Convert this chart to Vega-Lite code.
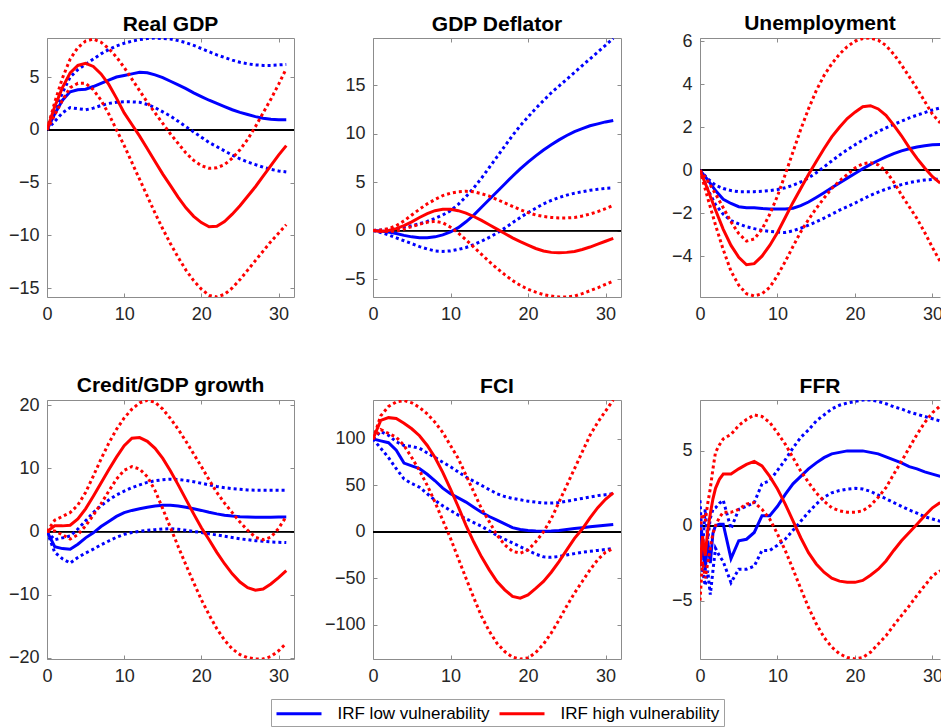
{
"$schema": "https://vega.github.io/schema/vega-lite/v6.json",
"background": "white",
"padding": {"left": 8, "top": 13, "right": 0, "bottom": 0},
"datasets": {"d": [
{"p":"g","t":0,"lm":0,"ll":0,"lh":0,"hm":0,"hl":0,"hh":0},
{"p":"g","t":1,"lm":1.5,"ll":0.8,"lh":1.8,"hm":2.2,"hl":1.4,"hh":2.6},
{"p":"g","t":2,"lm":2.8,"ll":1.6,"lh":3.5,"hm":4.0,"hl":2.8,"hh":4.9},
{"p":"g","t":3,"lm":3.6,"ll":2.1,"lh":5.0,"hm":5.4,"hl":4.0,"hh":6.7},
{"p":"g","t":4,"lm":3.8,"ll":2.0,"lh":5.7,"hm":6.1,"hl":4.4,"hh":7.8},
{"p":"g","t":5,"lm":3.85,"ll":1.9,"lh":6.2,"hm":6.3,"hl":4.4,"hh":8.4},
{"p":"g","t":6,"lm":4.1,"ll":2.05,"lh":6.7,"hm":6.0,"hl":3.8,"hh":8.6},
{"p":"g","t":7,"lm":4.4,"ll":2.3,"lh":7.2,"hm":5.3,"hl":2.8,"hh":8.3},
{"p":"g","t":8,"lm":4.7,"ll":2.5,"lh":7.6,"hm":4.3,"hl":1.5,"hh":7.7},
{"p":"g","t":9,"lm":5.0,"ll":2.6,"lh":7.95,"hm":3.0,"hl":0.0,"hh":6.9},
{"p":"g","t":10,"lm":5.15,"ll":2.65,"lh":8.2,"hm":1.6,"hl":-1.5,"hh":5.9},
{"p":"g","t":11,"lm":5.3,"ll":2.65,"lh":8.4,"hm":0.5,"hl":-3.1,"hh":4.8},
{"p":"g","t":12,"lm":5.45,"ll":2.6,"lh":8.55,"hm":-0.6,"hl":-4.7,"hh":3.7},
{"p":"g","t":13,"lm":5.4,"ll":2.4,"lh":8.65,"hm":-1.8,"hl":-6.3,"hh":2.6},
{"p":"g","t":14,"lm":5.2,"ll":2.1,"lh":8.7,"hm":-3.0,"hl":-7.9,"hh":1.6},
{"p":"g","t":15,"lm":4.95,"ll":1.7,"lh":8.65,"hm":-4.2,"hl":-9.4,"hh":0.6},
{"p":"g","t":16,"lm":4.6,"ll":1.3,"lh":8.6,"hm":-5.3,"hl":-10.8,"hh":-0.4},
{"p":"g","t":17,"lm":4.25,"ll":0.8,"lh":8.45,"hm":-6.4,"hl":-12.1,"hh":-1.3},
{"p":"g","t":18,"lm":3.9,"ll":0.3,"lh":8.25,"hm":-7.4,"hl":-13.3,"hh":-2.2},
{"p":"g","t":19,"lm":3.5,"ll":-0.2,"lh":8.0,"hm":-8.2,"hl":-14.3,"hh":-2.9},
{"p":"g","t":20,"lm":3.15,"ll":-0.7,"lh":7.7,"hm":-8.8,"hl":-15.1,"hh":-3.4},
{"p":"g","t":21,"lm":2.8,"ll":-1.2,"lh":7.4,"hm":-9.2,"hl":-15.7,"hh":-3.65},
{"p":"g","t":22,"lm":2.5,"ll":-1.6,"lh":7.1,"hm":-9.15,"hl":-15.85,"hh":-3.6},
{"p":"g","t":23,"lm":2.2,"ll":-2.0,"lh":6.85,"hm":-8.7,"hl":-15.6,"hh":-3.3},
{"p":"g","t":24,"lm":1.9,"ll":-2.4,"lh":6.6,"hm":-8.0,"hl":-15.0,"hh":-2.7},
{"p":"g","t":25,"lm":1.65,"ll":-2.75,"lh":6.4,"hm":-7.2,"hl":-14.2,"hh":-1.9},
{"p":"g","t":26,"lm":1.45,"ll":-3.05,"lh":6.25,"hm":-6.3,"hl":-13.3,"hh":-0.9},
{"p":"g","t":27,"lm":1.25,"ll":-3.3,"lh":6.15,"hm":-5.4,"hl":-12.4,"hh":0.3},
{"p":"g","t":28,"lm":1.1,"ll":-3.55,"lh":6.1,"hm":-4.4,"hl":-11.5,"hh":1.6},
{"p":"g","t":29,"lm":1.0,"ll":-3.75,"lh":6.1,"hm":-3.4,"hl":-10.6,"hh":2.9},
{"p":"g","t":30,"lm":0.95,"ll":-3.9,"lh":6.15,"hm":-2.4,"hl":-9.8,"hh":4.3},
{"p":"g","t":31,"lm":0.95,"ll":-4.0,"lh":6.2,"hm":-1.5,"hl":-9.0,"hh":5.8},
{"p":"d","t":0,"lm":0,"ll":0,"lh":0,"hm":0,"hl":0,"hh":0},
{"p":"d","t":1,"lm":-0.05,"ll":-0.2,"lh":0.05,"hm":-0.1,"hl":-0.05,"hh":0.05},
{"p":"d","t":2,"lm":-0.15,"ll":-0.45,"lh":0.1,"hm":0.0,"hl":-0.1,"hh":0.2},
{"p":"d","t":3,"lm":-0.3,"ll":-0.75,"lh":0.2,"hm":0.2,"hl":-0.05,"hh":0.5},
{"p":"d","t":4,"lm":-0.5,"ll":-1.05,"lh":0.35,"hm":0.5,"hl":0.15,"hh":1.0},
{"p":"d","t":5,"lm":-0.65,"ll":-1.35,"lh":0.5,"hm":0.9,"hl":0.4,"hh":1.6},
{"p":"d","t":6,"lm":-0.75,"ll":-1.65,"lh":0.7,"hm":1.35,"hl":0.65,"hh":2.2},
{"p":"d","t":7,"lm":-0.75,"ll":-1.9,"lh":0.95,"hm":1.75,"hl":0.85,"hh":2.75},
{"p":"d","t":8,"lm":-0.65,"ll":-2.1,"lh":1.25,"hm":2.05,"hl":0.95,"hh":3.2},
{"p":"d","t":9,"lm":-0.45,"ll":-2.15,"lh":1.6,"hm":2.2,"hl":0.8,"hh":3.6},
{"p":"d","t":10,"lm":-0.15,"ll":-2.1,"lh":2.05,"hm":2.2,"hl":0.35,"hh":3.85},
{"p":"d","t":11,"lm":0.3,"ll":-1.95,"lh":2.7,"hm":2.05,"hl":-0.25,"hh":4.0},
{"p":"d","t":12,"lm":0.9,"ll":-1.75,"lh":3.5,"hm":1.8,"hl":-0.95,"hh":4.05},
{"p":"d","t":13,"lm":1.6,"ll":-1.45,"lh":4.4,"hm":1.45,"hl":-1.7,"hh":4.0},
{"p":"d","t":14,"lm":2.4,"ll":-1.1,"lh":5.4,"hm":1.05,"hl":-2.45,"hh":3.8},
{"p":"d","t":15,"lm":3.2,"ll":-0.7,"lh":6.5,"hm":0.6,"hl":-3.2,"hh":3.55},
{"p":"d","t":16,"lm":4.0,"ll":-0.25,"lh":7.6,"hm":0.15,"hl":-3.9,"hh":3.2},
{"p":"d","t":17,"lm":4.8,"ll":0.25,"lh":8.7,"hm":-0.3,"hl":-4.55,"hh":2.85},
{"p":"d","t":18,"lm":5.6,"ll":0.8,"lh":9.8,"hm":-0.75,"hl":-5.15,"hh":2.5},
{"p":"d","t":19,"lm":6.35,"ll":1.35,"lh":10.8,"hm":-1.15,"hl":-5.65,"hh":2.15},
{"p":"d","t":20,"lm":7.05,"ll":1.85,"lh":11.7,"hm":-1.5,"hl":-6.05,"hh":1.85},
{"p":"d","t":21,"lm":7.7,"ll":2.3,"lh":12.6,"hm":-1.85,"hl":-6.35,"hh":1.6},
{"p":"d","t":22,"lm":8.3,"ll":2.75,"lh":13.4,"hm":-2.1,"hl":-6.6,"hh":1.45},
{"p":"d","t":23,"lm":8.85,"ll":3.1,"lh":14.2,"hm":-2.25,"hl":-6.75,"hh":1.35},
{"p":"d","t":24,"lm":9.35,"ll":3.4,"lh":14.9,"hm":-2.3,"hl":-6.85,"hh":1.3},
{"p":"d","t":25,"lm":9.8,"ll":3.65,"lh":15.6,"hm":-2.25,"hl":-6.85,"hh":1.3},
{"p":"d","t":26,"lm":10.2,"ll":3.85,"lh":16.3,"hm":-2.15,"hl":-6.75,"hh":1.35},
{"p":"d","t":27,"lm":10.5,"ll":4.0,"lh":17.0,"hm":-1.95,"hl":-6.5,"hh":1.5},
{"p":"d","t":28,"lm":10.8,"ll":4.15,"lh":17.7,"hm":-1.7,"hl":-6.2,"hh":1.7},
{"p":"d","t":29,"lm":11.0,"ll":4.25,"lh":18.4,"hm":-1.4,"hl":-5.9,"hh":1.95},
{"p":"d","t":30,"lm":11.2,"ll":4.35,"lh":19.1,"hm":-1.1,"hl":-5.55,"hh":2.25},
{"p":"d","t":31,"lm":11.35,"ll":4.4,"lh":19.8,"hm":-0.8,"hl":-5.2,"hh":2.6},
{"p":"u","t":0,"lm":0,"ll":0,"lh":0,"hm":0,"hl":0,"hh":0},
{"p":"u","t":1,"lm":-0.45,"ll":-0.9,"lh":-0.4,"hm":-0.9,"hl":-1.3,"hh":-0.5},
{"p":"u","t":2,"lm":-0.95,"ll":-1.6,"lh":-0.7,"hm":-1.85,"hl":-2.55,"hh":-1.1},
{"p":"u","t":3,"lm":-1.35,"ll":-2.05,"lh":-0.85,"hm":-2.75,"hl":-3.7,"hh":-1.75},
{"p":"u","t":4,"lm":-1.55,"ll":-2.35,"lh":-0.95,"hm":-3.5,"hl":-4.7,"hh":-2.4},
{"p":"u","t":5,"lm":-1.7,"ll":-2.5,"lh":-1.0,"hm":-4.05,"hl":-5.35,"hh":-2.95},
{"p":"u","t":6,"lm":-1.75,"ll":-2.63,"lh":-1.0,"hm":-4.4,"hl":-5.75,"hh":-3.3},
{"p":"u","t":7,"lm":-1.75,"ll":-2.72,"lh":-1.0,"hm":-4.35,"hl":-5.85,"hh":-3.2},
{"p":"u","t":8,"lm":-1.78,"ll":-2.8,"lh":-0.98,"hm":-4.0,"hl":-5.75,"hh":-2.75},
{"p":"u","t":9,"lm":-1.8,"ll":-2.85,"lh":-0.95,"hm":-3.5,"hl":-5.45,"hh":-2.05},
{"p":"u","t":10,"lm":-1.8,"ll":-2.88,"lh":-0.9,"hm":-2.9,"hl":-4.9,"hh":-1.2},
{"p":"u","t":11,"lm":-1.8,"ll":-2.9,"lh":-0.82,"hm":-2.2,"hl":-4.25,"hh":-0.2},
{"p":"u","t":12,"lm":-1.77,"ll":-2.82,"lh":-0.7,"hm":-1.5,"hl":-3.55,"hh":0.85},
{"p":"u","t":13,"lm":-1.65,"ll":-2.7,"lh":-0.55,"hm":-0.85,"hl":-2.87,"hh":1.9},
{"p":"u","t":14,"lm":-1.48,"ll":-2.56,"lh":-0.36,"hm":-0.2,"hl":-2.3,"hh":2.85},
{"p":"u","t":15,"lm":-1.27,"ll":-2.4,"lh":-0.12,"hm":0.4,"hl":-1.78,"hh":3.7},
{"p":"u","t":16,"lm":-1.05,"ll":-2.23,"lh":0.15,"hm":1.0,"hl":-1.3,"hh":4.4},
{"p":"u","t":17,"lm":-0.82,"ll":-2.05,"lh":0.43,"hm":1.55,"hl":-0.85,"hh":4.95},
{"p":"u","t":18,"lm":-0.6,"ll":-1.86,"lh":0.7,"hm":2.0,"hl":-0.5,"hh":5.4},
{"p":"u","t":19,"lm":-0.37,"ll":-1.7,"lh":0.95,"hm":2.4,"hl":-0.2,"hh":5.75},
{"p":"u","t":20,"lm":-0.15,"ll":-1.53,"lh":1.18,"hm":2.7,"hl":0.1,"hh":6.0},
{"p":"u","t":21,"lm":0.07,"ll":-1.35,"lh":1.4,"hm":2.95,"hl":0.3,"hh":6.12},
{"p":"u","t":22,"lm":0.27,"ll":-1.17,"lh":1.6,"hm":3.0,"hl":0.35,"hh":6.15},
{"p":"u","t":23,"lm":0.45,"ll":-1.02,"lh":1.8,"hm":2.85,"hl":0.25,"hh":6.05},
{"p":"u","t":24,"lm":0.62,"ll":-0.88,"lh":1.97,"hm":2.55,"hl":-0.05,"hh":5.8},
{"p":"u","t":25,"lm":0.77,"ll":-0.77,"lh":2.13,"hm":2.1,"hl":-0.55,"hh":5.4},
{"p":"u","t":26,"lm":0.9,"ll":-0.67,"lh":2.28,"hm":1.6,"hl":-1.15,"hh":4.9},
{"p":"u","t":27,"lm":1.0,"ll":-0.58,"lh":2.43,"hm":1.05,"hl":-1.7,"hh":4.35},
{"p":"u","t":28,"lm":1.08,"ll":-0.51,"lh":2.56,"hm":0.55,"hl":-2.25,"hh":3.8},
{"p":"u","t":29,"lm":1.14,"ll":-0.46,"lh":2.68,"hm":0.1,"hl":-2.9,"hh":3.2},
{"p":"u","t":30,"lm":1.18,"ll":-0.43,"lh":2.8,"hm":-0.3,"hl":-3.6,"hh":2.6},
{"p":"u","t":31,"lm":1.2,"ll":-0.42,"lh":2.9,"hm":-0.6,"hl":-4.25,"hh":2.2},
{"p":"c","t":0,"lm":0,"ll":0,"lh":0,"hm":0,"hl":0,"hh":0},
{"p":"c","t":1,"lm":-2.4,"ll":-3.3,"lh":-1.3,"hm":0.9,"hl":0.1,"hh":1.8},
{"p":"c","t":2,"lm":-2.7,"ll":-4.3,"lh":-1.0,"hm":0.9,"hl":-0.5,"hh":2.4},
{"p":"c","t":3,"lm":-2.8,"ll":-5.0,"lh":-0.7,"hm":1.0,"hl":-1.2,"hh":3.0},
{"p":"c","t":4,"lm":-2.0,"ll":-4.1,"lh":0.4,"hm":2.0,"hl":-0.5,"hh":4.2},
{"p":"c","t":5,"lm":-1.0,"ll":-3.4,"lh":1.7,"hm":3.6,"hl":0.9,"hh":6.2},
{"p":"c","t":6,"lm":-0.2,"ll":-2.8,"lh":3.0,"hm":5.6,"hl":2.6,"hh":8.8},
{"p":"c","t":7,"lm":0.8,"ll":-2.1,"lh":4.1,"hm":7.7,"hl":4.4,"hh":11.5},
{"p":"c","t":8,"lm":1.6,"ll":-1.5,"lh":5.0,"hm":9.8,"hl":6.4,"hh":14.0},
{"p":"c","t":9,"lm":2.4,"ll":-0.9,"lh":5.8,"hm":11.8,"hl":8.3,"hh":16.2},
{"p":"c","t":10,"lm":3.0,"ll":-0.45,"lh":6.4,"hm":13.6,"hl":9.7,"hh":18.0},
{"p":"c","t":11,"lm":3.35,"ll":-0.15,"lh":6.95,"hm":14.8,"hl":10.3,"hh":19.4},
{"p":"c","t":12,"lm":3.6,"ll":0.05,"lh":7.4,"hm":14.9,"hl":9.9,"hh":20.4},
{"p":"c","t":13,"lm":3.85,"ll":0.2,"lh":7.8,"hm":14.3,"hl":8.7,"hh":20.8},
{"p":"c","t":14,"lm":4.05,"ll":0.3,"lh":8.05,"hm":13.2,"hl":6.5,"hh":20.5},
{"p":"c","t":15,"lm":4.15,"ll":0.4,"lh":8.2,"hm":11.6,"hl":3.6,"hh":19.4},
{"p":"c","t":16,"lm":4.15,"ll":0.45,"lh":8.3,"hm":9.6,"hl":0.6,"hh":17.9},
{"p":"c","t":17,"lm":4.05,"ll":0.35,"lh":8.25,"hm":7.4,"hl":-2.4,"hh":16.2},
{"p":"c","t":18,"lm":3.85,"ll":0.2,"lh":8.1,"hm":5.1,"hl":-5.3,"hh":14.3},
{"p":"c","t":19,"lm":3.6,"ll":0.0,"lh":7.9,"hm":2.8,"hl":-8.1,"hh":12.3},
{"p":"c","t":20,"lm":3.35,"ll":-0.15,"lh":7.65,"hm":0.6,"hl":-10.8,"hh":10.3},
{"p":"c","t":21,"lm":3.05,"ll":-0.35,"lh":7.4,"hm":-1.3,"hl":-13.2,"hh":8.2},
{"p":"c","t":22,"lm":2.8,"ll":-0.55,"lh":7.15,"hm":-3.3,"hl":-15.4,"hh":6.2},
{"p":"c","t":23,"lm":2.6,"ll":-0.75,"lh":6.95,"hm":-5.1,"hl":-17.2,"hh":4.5},
{"p":"c","t":24,"lm":2.45,"ll":-0.95,"lh":6.8,"hm":-6.7,"hl":-18.6,"hh":3.0},
{"p":"c","t":25,"lm":2.35,"ll":-1.15,"lh":6.7,"hm":-8.0,"hl":-19.5,"hh":1.5},
{"p":"c","t":26,"lm":2.3,"ll":-1.3,"lh":6.6,"hm":-8.9,"hl":-20.0,"hh":0.2},
{"p":"c","t":27,"lm":2.25,"ll":-1.45,"lh":6.55,"hm":-9.3,"hl":-20.2,"hh":-0.9},
{"p":"c","t":28,"lm":2.25,"ll":-1.55,"lh":6.55,"hm":-9.1,"hl":-20.2,"hh":-1.3},
{"p":"c","t":29,"lm":2.25,"ll":-1.65,"lh":6.55,"hm":-8.3,"hl":-19.8,"hh":-0.9},
{"p":"c","t":30,"lm":2.3,"ll":-1.7,"lh":6.55,"hm":-7.3,"hl":-18.9,"hh":0.5},
{"p":"c","t":31,"lm":2.3,"ll":-1.75,"lh":6.55,"hm":-6.2,"hl":-17.7,"hh":2.4},
{"p":"f","t":0,"lm":100,"ll":100,"lh":100,"hm":100,"hl":100,"hh":100},
{"p":"f","t":1,"lm":98,"ll":90,"lh":108,"hm":120,"hl":110,"hh":125},
{"p":"f","t":2,"lm":96,"ll":80,"lh":104,"hm":123,"hl":106,"hh":135},
{"p":"f","t":3,"lm":88,"ll":68,"lh":97,"hm":122,"hl":102,"hh":140},
{"p":"f","t":4,"lm":74,"ll":57,"lh":93,"hm":117,"hl":93,"hh":141.5},
{"p":"f","t":5,"lm":71,"ll":52,"lh":92,"hm":111,"hl":80,"hh":139},
{"p":"f","t":6,"lm":68,"ll":48,"lh":90,"hm":103.5,"hl":66,"hh":134},
{"p":"f","t":7,"lm":62,"ll":41,"lh":85,"hm":93,"hl":50,"hh":127},
{"p":"f","t":8,"lm":55,"ll":34,"lh":80,"hm":80,"hl":32,"hh":118},
{"p":"f","t":9,"lm":47,"ll":28,"lh":75,"hm":64,"hl":12.5,"hh":107},
{"p":"f","t":10,"lm":41,"ll":23,"lh":70,"hm":46,"hl":-7,"hh":93},
{"p":"f","t":11,"lm":36.5,"ll":18,"lh":64.5,"hm":27,"hl":-28.6,"hh":79},
{"p":"f","t":12,"lm":32,"ll":14,"lh":59,"hm":7,"hl":-50,"hh":61},
{"p":"f","t":13,"lm":26.5,"ll":10,"lh":54.5,"hm":-11,"hl":-71,"hh":43},
{"p":"f","t":14,"lm":21,"ll":6,"lh":50,"hm":-27,"hl":-91,"hh":25},
{"p":"f","t":15,"lm":16.5,"ll":1,"lh":45.5,"hm":-41,"hl":-107,"hh":11},
{"p":"f","t":16,"lm":12.5,"ll":-4,"lh":41,"hm":-53.5,"hl":-120,"hh":-3.6},
{"p":"f","t":17,"lm":8.5,"ll":-8,"lh":38,"hm":-62.5,"hl":-129,"hh":-14},
{"p":"f","t":18,"lm":4.5,"ll":-12,"lh":36,"hm":-69.5,"hl":-135,"hh":-21},
{"p":"f","t":19,"lm":2.5,"ll":-16,"lh":34.5,"hm":-71.5,"hl":-137,"hh":-23},
{"p":"f","t":20,"lm":1.5,"ll":-20,"lh":33,"hm":-68,"hl":-136,"hh":-19.6},
{"p":"f","t":21,"lm":0.8,"ll":-24,"lh":32,"hm":-61,"hl":-130,"hh":-10.7},
{"p":"f","t":22,"lm":0.5,"ll":-27,"lh":31,"hm":-53.5,"hl":-121,"hh":0},
{"p":"f","t":23,"lm":0.8,"ll":-27.5,"lh":31,"hm":-43.5,"hl":-109,"hh":14},
{"p":"f","t":24,"lm":1.5,"ll":-26.5,"lh":31.5,"hm":-32,"hl":-95,"hh":32},
{"p":"f","t":25,"lm":2.5,"ll":-25,"lh":33,"hm":-19.5,"hl":-80,"hh":50},
{"p":"f","t":26,"lm":3.5,"ll":-23.5,"lh":34.5,"hm":-7,"hl":-66,"hh":68},
{"p":"f","t":27,"lm":4.5,"ll":-22,"lh":36,"hm":3,"hl":-53.5,"hh":86},
{"p":"f","t":28,"lm":5.5,"ll":-21,"lh":37.5,"hm":15,"hl":-41,"hh":104},
{"p":"f","t":29,"lm":6.3,"ll":-20,"lh":39,"hm":26,"hl":-30,"hh":118},
{"p":"f","t":30,"lm":7.2,"ll":-19,"lh":40,"hm":35,"hl":-22,"hh":130},
{"p":"f","t":31,"lm":8.0,"ll":-18,"lh":41,"hm":42,"hl":-18,"hh":142},
{"p":"r","t":0,"lm":0.0,"ll":-1.7,"lh":1.7,"hm":-2.7,"hl":-5.0,"hh":-0.3},
{"p":"r","t":0.33,"lm":-1.5,"ll":-3.0,"lh":-1.5,"hm":-0.7,"hl":-2.4,"hh":0.8},
{"p":"r","t":0.67,"lm":-3.0,"ll":-4.0,"lh":1.1,"hm":-2.0,"hl":-3.5,"hh":0.3},
{"p":"r","t":1,"lm":-1.0,"ll":-3.0,"lh":-0.9,"hm":-0.3,"hl":-2.5,"hh":1.5},
{"p":"r","t":1.33,"lm":-2.5,"ll":-4.6,"lh":0.5,"hm":0.8,"hl":-1.5,"hh":2.5},
{"p":"r","t":1.67,"lm":-0.5,"ll":-3.0,"lh":1.1,"hm":1.8,"hl":-0.5,"hh":3.8},
{"p":"r","t":2,"lm":0.0,"ll":-1.5,"lh":1.2,"hm":2.5,"hl":0.0,"hh":4.9},
{"p":"r","t":2.5,"lm":0.1,"ll":-2.0,"lh":1.5,"hm":3.1,"hl":0.55,"hh":5.4},
{"p":"r","t":3,"lm":0.1,"ll":-2.4,"lh":1.7,"hm":3.45,"hl":0.9,"hh":5.8},
{"p":"r","t":4,"lm":-2.2,"ll":-3.8,"lh":-0.2,"hm":3.45,"hl":0.9,"hh":6.1},
{"p":"r","t":5,"lm":-1.0,"ll":-2.9,"lh":1.1,"hm":3.8,"hl":1.1,"hh":6.7},
{"p":"r","t":6,"lm":-0.9,"ll":-2.9,"lh":1.3,"hm":4.1,"hl":1.45,"hh":7.1},
{"p":"r","t":7,"lm":-0.45,"ll":-2.7,"lh":1.55,"hm":4.3,"hl":1.55,"hh":7.4},
{"p":"r","t":8,"lm":0.67,"ll":-1.65,"lh":2.8,"hm":4.0,"hl":1.1,"hh":7.3},
{"p":"r","t":9,"lm":0.67,"ll":-1.65,"lh":3.0,"hm":3.3,"hl":0.45,"hh":6.9},
{"p":"r","t":10,"lm":1.3,"ll":-1.3,"lh":3.7,"hm":2.45,"hl":-0.55,"hh":6.2},
{"p":"r","t":11,"lm":2.1,"ll":-0.9,"lh":4.4,"hm":1.45,"hl":-1.65,"hh":5.45},
{"p":"r","t":12,"lm":2.8,"ll":-0.3,"lh":5.2,"hm":0.33,"hl":-2.9,"hh":4.55},
{"p":"r","t":13,"lm":3.3,"ll":0.3,"lh":5.9,"hm":-0.8,"hl":-4.2,"hh":3.65},
{"p":"r","t":14,"lm":3.8,"ll":0.9,"lh":6.4,"hm":-1.8,"hl":-5.45,"hh":2.9},
{"p":"r","t":15,"lm":4.2,"ll":1.45,"lh":7.0,"hm":-2.55,"hl":-6.55,"hh":2.2},
{"p":"r","t":16,"lm":4.55,"ll":1.9,"lh":7.4,"hm":-3.1,"hl":-7.45,"hh":1.65},
{"p":"r","t":17,"lm":4.8,"ll":2.2,"lh":7.8,"hm":-3.5,"hl":-8.1,"hh":1.2},
{"p":"r","t":18,"lm":4.9,"ll":2.35,"lh":8.05,"hm":-3.7,"hl":-8.55,"hh":1.0},
{"p":"r","t":19,"lm":5.0,"ll":2.45,"lh":8.2,"hm":-3.78,"hl":-8.8,"hh":0.9},
{"p":"r","t":20,"lm":5.0,"ll":2.5,"lh":8.3,"hm":-3.78,"hl":-8.9,"hh":0.9},
{"p":"r","t":21,"lm":5.0,"ll":2.45,"lh":8.4,"hm":-3.65,"hl":-8.8,"hh":1.0},
{"p":"r","t":22,"lm":4.9,"ll":2.3,"lh":8.4,"hm":-3.3,"hl":-8.45,"hh":1.35},
{"p":"r","t":23,"lm":4.8,"ll":2.05,"lh":8.3,"hm":-2.9,"hl":-7.9,"hh":1.9},
{"p":"r","t":24,"lm":4.6,"ll":1.8,"lh":8.15,"hm":-2.35,"hl":-7.35,"hh":2.55},
{"p":"r","t":25,"lm":4.4,"ll":1.55,"lh":7.95,"hm":-1.65,"hl":-6.65,"hh":3.45},
{"p":"r","t":26,"lm":4.2,"ll":1.3,"lh":7.8,"hm":-1.0,"hl":-6.0,"hh":4.3},
{"p":"r","t":27,"lm":3.95,"ll":1.05,"lh":7.6,"hm":-0.45,"hl":-5.35,"hh":5.2},
{"p":"r","t":28,"lm":3.8,"ll":0.85,"lh":7.45,"hm":0.1,"hl":-4.65,"hh":6.1},
{"p":"r","t":29,"lm":3.6,"ll":0.6,"lh":7.3,"hm":0.67,"hl":-4.0,"hh":6.9},
{"p":"r","t":30,"lm":3.45,"ll":0.45,"lh":7.15,"hm":1.2,"hl":-3.35,"hh":7.55},
{"p":"r","t":31,"lm":3.3,"ll":0.3,"lh":7.0,"hm":1.55,"hl":-3.0,"hh":8.0}
]},
"data": {"name": "d"},
"columns": 3,
"spacing": {"row": 103, "column": 79},
"bounds": "flush",
"concat": [
{"title": {"text": "Real GDP", "offset": 3}, "width": 247, "height": 259,
 "transform": [{"filter": "datum.p == 'g'"}],
 "resolve": {"axis": {"x": "independent", "y": "independent"}},
 "layer": [
  {"mark": {"type": "rule", "color": "#000000", "strokeWidth": 1}, "encoding": {"y": {"datum": 0, "type": "quantitative", "scale": {"domain": [-15.85, 8.7], "nice": false, "zero": false}, "axis": null}}},
  {"mark": {"type": "line", "strokeWidth": 3, "clip": true}, "encoding": {"x": {"field": "t", "type": "quantitative", "scale": {"domain": [0, 32], "nice": false, "zero": false}, "axis": {"orient": "bottom", "values": [0, 10, 20, 30], "title": null}}, "y": {"field": "lm", "type": "quantitative", "scale": {"domain": [-15.85, 8.7], "nice": false, "zero": false}, "axis": {"orient": "left", "values": [-15, -10, -5, 0, 5], "title": null}}, "color": {"datum": "IRF low vulnerability", "type": "nominal", "scale": {"domain": ["IRF low vulnerability", "IRF high vulnerability"], "range": ["#0000ff", "#ff0000"]}, "legend": {"orient": "none", "legendX": 224, "legendY": 661, "direction": "horizontal", "title": null, "symbolType": "M-2.5,0L2.5,0", "symbolSize": 324, "symbolStrokeWidth": 3, "symbolOffset": 13.5, "labelFont": "Liberation Sans", "labelFontSize": 17, "labelColor": "#000000", "labelLimit": 400, "strokeColor": "#a0a0a0", "fillColor": "#ffffff", "padding": 4, "columnPadding": 3, "labelOffset": 28}}}},
  {"mark": {"type": "line", "strokeWidth": 3, "strokeDash": [3, 3], "clip": true}, "encoding": {"x": {"field": "t", "type": "quantitative", "scale": {"domain": [0, 32], "nice": false, "zero": false}, "axis": null}, "y": {"field": "ll", "type": "quantitative", "scale": {"domain": [-15.85, 8.7], "nice": false, "zero": false}, "axis": null}, "color": {"value": "#0000ff"}}},
  {"mark": {"type": "line", "strokeWidth": 3, "strokeDash": [3, 3], "clip": true}, "encoding": {"x": {"field": "t", "type": "quantitative", "scale": {"domain": [0, 32], "nice": false, "zero": false}, "axis": null}, "y": {"field": "lh", "type": "quantitative", "scale": {"domain": [-15.85, 8.7], "nice": false, "zero": false}, "axis": null}, "color": {"value": "#0000ff"}}},
  {"mark": {"type": "line", "strokeWidth": 3, "clip": true}, "encoding": {"x": {"field": "t", "type": "quantitative", "scale": {"domain": [0, 32], "nice": false, "zero": false}, "axis": null}, "y": {"field": "hm", "type": "quantitative", "scale": {"domain": [-15.85, 8.7], "nice": false, "zero": false}, "axis": null}, "color": {"datum": "IRF high vulnerability", "type": "nominal", "scale": {"domain": ["IRF low vulnerability", "IRF high vulnerability"], "range": ["#0000ff", "#ff0000"]}}}},
  {"mark": {"type": "line", "strokeWidth": 3, "strokeDash": [3, 3], "clip": true}, "encoding": {"x": {"field": "t", "type": "quantitative", "scale": {"domain": [0, 32], "nice": false, "zero": false}, "axis": null}, "y": {"field": "hl", "type": "quantitative", "scale": {"domain": [-15.85, 8.7], "nice": false, "zero": false}, "axis": null}, "color": {"value": "#ff0000"}}},
  {"mark": {"type": "line", "strokeWidth": 3, "strokeDash": [3, 3], "clip": true}, "encoding": {"x": {"field": "t", "type": "quantitative", "scale": {"domain": [0, 32], "nice": false, "zero": false}, "axis": null}, "y": {"field": "hh", "type": "quantitative", "scale": {"domain": [-15.85, 8.7], "nice": false, "zero": false}, "axis": null}, "color": {"value": "#ff0000"}}},
  {"mark": {"type": "line", "opacity": 0}, "encoding": {"x": {"field": "t", "type": "quantitative", "scale": {"domain": [0, 32], "nice": false, "zero": false}, "axis": {"orient": "top", "values": [0, 10, 20, 30], "labels": false, "title": null}}, "y": {"field": "lm", "type": "quantitative", "scale": {"domain": [-15.85, 8.7], "nice": false, "zero": false}, "axis": {"orient": "right", "values": [-15, -10, -5, 0, 5], "labels": false, "title": null}}}}
 ]},
{"title": {"text": "GDP Deflator", "offset": 3}, "width": 248, "height": 259,
 "transform": [{"filter": "datum.p == 'd'"}],
 "resolve": {"axis": {"x": "independent", "y": "independent"}},
 "layer": [
  {"mark": {"type": "rule", "color": "#000000", "strokeWidth": 1}, "encoding": {"y": {"datum": 0, "type": "quantitative", "scale": {"domain": [-6.85, 19.85], "nice": false, "zero": false}, "axis": null}}},
  {"mark": {"type": "line", "strokeWidth": 3, "clip": true}, "encoding": {"x": {"field": "t", "type": "quantitative", "scale": {"domain": [0, 32], "nice": false, "zero": false}, "axis": {"orient": "bottom", "values": [0, 10, 20, 30], "title": null}}, "y": {"field": "lm", "type": "quantitative", "scale": {"domain": [-6.85, 19.85], "nice": false, "zero": false}, "axis": {"orient": "left", "values": [-5, 0, 5, 10, 15], "title": null}}, "color": {"datum": "IRF low vulnerability", "type": "nominal", "scale": {"domain": ["IRF low vulnerability", "IRF high vulnerability"], "range": ["#0000ff", "#ff0000"]}}}},
  {"mark": {"type": "line", "strokeWidth": 3, "strokeDash": [3, 3], "clip": true}, "encoding": {"x": {"field": "t", "type": "quantitative", "scale": {"domain": [0, 32], "nice": false, "zero": false}, "axis": null}, "y": {"field": "ll", "type": "quantitative", "scale": {"domain": [-6.85, 19.85], "nice": false, "zero": false}, "axis": null}, "color": {"value": "#0000ff"}}},
  {"mark": {"type": "line", "strokeWidth": 3, "strokeDash": [3, 3], "clip": true}, "encoding": {"x": {"field": "t", "type": "quantitative", "scale": {"domain": [0, 32], "nice": false, "zero": false}, "axis": null}, "y": {"field": "lh", "type": "quantitative", "scale": {"domain": [-6.85, 19.85], "nice": false, "zero": false}, "axis": null}, "color": {"value": "#0000ff"}}},
  {"mark": {"type": "line", "strokeWidth": 3, "clip": true}, "encoding": {"x": {"field": "t", "type": "quantitative", "scale": {"domain": [0, 32], "nice": false, "zero": false}, "axis": null}, "y": {"field": "hm", "type": "quantitative", "scale": {"domain": [-6.85, 19.85], "nice": false, "zero": false}, "axis": null}, "color": {"datum": "IRF high vulnerability", "type": "nominal", "scale": {"domain": ["IRF low vulnerability", "IRF high vulnerability"], "range": ["#0000ff", "#ff0000"]}}}},
  {"mark": {"type": "line", "strokeWidth": 3, "strokeDash": [3, 3], "clip": true}, "encoding": {"x": {"field": "t", "type": "quantitative", "scale": {"domain": [0, 32], "nice": false, "zero": false}, "axis": null}, "y": {"field": "hl", "type": "quantitative", "scale": {"domain": [-6.85, 19.85], "nice": false, "zero": false}, "axis": null}, "color": {"value": "#ff0000"}}},
  {"mark": {"type": "line", "strokeWidth": 3, "strokeDash": [3, 3], "clip": true}, "encoding": {"x": {"field": "t", "type": "quantitative", "scale": {"domain": [0, 32], "nice": false, "zero": false}, "axis": null}, "y": {"field": "hh", "type": "quantitative", "scale": {"domain": [-6.85, 19.85], "nice": false, "zero": false}, "axis": null}, "color": {"value": "#ff0000"}}},
  {"mark": {"type": "line", "opacity": 0}, "encoding": {"x": {"field": "t", "type": "quantitative", "scale": {"domain": [0, 32], "nice": false, "zero": false}, "axis": {"orient": "top", "values": [0, 10, 20, 30], "labels": false, "title": null}}, "y": {"field": "lm", "type": "quantitative", "scale": {"domain": [-6.85, 19.85], "nice": false, "zero": false}, "axis": {"orient": "right", "values": [-5, 0, 5, 10, 15], "labels": false, "title": null}}}}
 ]},
{"title": {"text": "Unemployment", "offset": -2}, "width": 240, "height": 259,
 "transform": [{"filter": "datum.p == 'u'"}],
 "resolve": {"axis": {"x": "independent", "y": "independent"}},
 "layer": [
  {"mark": {"type": "rule", "color": "#000000", "strokeWidth": 1}, "encoding": {"y": {"datum": 0, "type": "quantitative", "scale": {"domain": [-5.9, 6.15], "nice": false, "zero": false}, "axis": null}}},
  {"mark": {"type": "line", "strokeWidth": 3, "clip": true}, "encoding": {"x": {"field": "t", "type": "quantitative", "scale": {"domain": [0, 30.97], "nice": false, "zero": false}, "axis": {"orient": "bottom", "values": [0, 10, 20, 30], "title": null}}, "y": {"field": "lm", "type": "quantitative", "scale": {"domain": [-5.9, 6.15], "nice": false, "zero": false}, "axis": {"orient": "left", "values": [-4, -2, 0, 2, 4, 6], "title": null}}, "color": {"datum": "IRF low vulnerability", "type": "nominal", "scale": {"domain": ["IRF low vulnerability", "IRF high vulnerability"], "range": ["#0000ff", "#ff0000"]}}}},
  {"mark": {"type": "line", "strokeWidth": 3, "strokeDash": [3, 3], "clip": true}, "encoding": {"x": {"field": "t", "type": "quantitative", "scale": {"domain": [0, 30.97], "nice": false, "zero": false}, "axis": null}, "y": {"field": "ll", "type": "quantitative", "scale": {"domain": [-5.9, 6.15], "nice": false, "zero": false}, "axis": null}, "color": {"value": "#0000ff"}}},
  {"mark": {"type": "line", "strokeWidth": 3, "strokeDash": [3, 3], "clip": true}, "encoding": {"x": {"field": "t", "type": "quantitative", "scale": {"domain": [0, 30.97], "nice": false, "zero": false}, "axis": null}, "y": {"field": "lh", "type": "quantitative", "scale": {"domain": [-5.9, 6.15], "nice": false, "zero": false}, "axis": null}, "color": {"value": "#0000ff"}}},
  {"mark": {"type": "line", "strokeWidth": 3, "clip": true}, "encoding": {"x": {"field": "t", "type": "quantitative", "scale": {"domain": [0, 30.97], "nice": false, "zero": false}, "axis": null}, "y": {"field": "hm", "type": "quantitative", "scale": {"domain": [-5.9, 6.15], "nice": false, "zero": false}, "axis": null}, "color": {"datum": "IRF high vulnerability", "type": "nominal", "scale": {"domain": ["IRF low vulnerability", "IRF high vulnerability"], "range": ["#0000ff", "#ff0000"]}}}},
  {"mark": {"type": "line", "strokeWidth": 3, "strokeDash": [3, 3], "clip": true}, "encoding": {"x": {"field": "t", "type": "quantitative", "scale": {"domain": [0, 30.97], "nice": false, "zero": false}, "axis": null}, "y": {"field": "hl", "type": "quantitative", "scale": {"domain": [-5.9, 6.15], "nice": false, "zero": false}, "axis": null}, "color": {"value": "#ff0000"}}},
  {"mark": {"type": "line", "strokeWidth": 3, "strokeDash": [3, 3], "clip": true}, "encoding": {"x": {"field": "t", "type": "quantitative", "scale": {"domain": [0, 30.97], "nice": false, "zero": false}, "axis": null}, "y": {"field": "hh", "type": "quantitative", "scale": {"domain": [-5.9, 6.15], "nice": false, "zero": false}, "axis": null}, "color": {"value": "#ff0000"}}},
  {"mark": {"type": "line", "opacity": 0}, "encoding": {"x": {"field": "t", "type": "quantitative", "scale": {"domain": [0, 30.97], "nice": false, "zero": false}, "axis": {"orient": "top", "values": [0, 10, 20, 30], "labels": false, "title": null}}, "y": {"field": "lm", "type": "quantitative", "scale": {"domain": [-5.9, 6.15], "nice": false, "zero": false}, "axis": null}}}
 ]},
{"title": {"text": "Credit/GDP growth", "offset": 0}, "width": 247, "height": 259,
 "transform": [{"filter": "datum.p == 'c'"}],
 "resolve": {"axis": {"x": "independent", "y": "independent"}},
 "layer": [
  {"mark": {"type": "rule", "color": "#000000", "strokeWidth": 1}, "encoding": {"y": {"datum": 0, "type": "quantitative", "scale": {"domain": [-20.2, 20.85], "nice": false, "zero": false}, "axis": null}}},
  {"mark": {"type": "line", "strokeWidth": 3, "clip": true}, "encoding": {"x": {"field": "t", "type": "quantitative", "scale": {"domain": [0, 32], "nice": false, "zero": false}, "axis": {"orient": "bottom", "values": [0, 10, 20, 30], "title": null}}, "y": {"field": "lm", "type": "quantitative", "scale": {"domain": [-20.2, 20.85], "nice": false, "zero": false}, "axis": {"orient": "left", "values": [-20, -10, 0, 10, 20], "title": null}}, "color": {"datum": "IRF low vulnerability", "type": "nominal", "scale": {"domain": ["IRF low vulnerability", "IRF high vulnerability"], "range": ["#0000ff", "#ff0000"]}}}},
  {"mark": {"type": "line", "strokeWidth": 3, "strokeDash": [3, 3], "clip": true}, "encoding": {"x": {"field": "t", "type": "quantitative", "scale": {"domain": [0, 32], "nice": false, "zero": false}, "axis": null}, "y": {"field": "ll", "type": "quantitative", "scale": {"domain": [-20.2, 20.85], "nice": false, "zero": false}, "axis": null}, "color": {"value": "#0000ff"}}},
  {"mark": {"type": "line", "strokeWidth": 3, "strokeDash": [3, 3], "clip": true}, "encoding": {"x": {"field": "t", "type": "quantitative", "scale": {"domain": [0, 32], "nice": false, "zero": false}, "axis": null}, "y": {"field": "lh", "type": "quantitative", "scale": {"domain": [-20.2, 20.85], "nice": false, "zero": false}, "axis": null}, "color": {"value": "#0000ff"}}},
  {"mark": {"type": "line", "strokeWidth": 3, "clip": true}, "encoding": {"x": {"field": "t", "type": "quantitative", "scale": {"domain": [0, 32], "nice": false, "zero": false}, "axis": null}, "y": {"field": "hm", "type": "quantitative", "scale": {"domain": [-20.2, 20.85], "nice": false, "zero": false}, "axis": null}, "color": {"datum": "IRF high vulnerability", "type": "nominal", "scale": {"domain": ["IRF low vulnerability", "IRF high vulnerability"], "range": ["#0000ff", "#ff0000"]}}}},
  {"mark": {"type": "line", "strokeWidth": 3, "strokeDash": [3, 3], "clip": true}, "encoding": {"x": {"field": "t", "type": "quantitative", "scale": {"domain": [0, 32], "nice": false, "zero": false}, "axis": null}, "y": {"field": "hl", "type": "quantitative", "scale": {"domain": [-20.2, 20.85], "nice": false, "zero": false}, "axis": null}, "color": {"value": "#ff0000"}}},
  {"mark": {"type": "line", "strokeWidth": 3, "strokeDash": [3, 3], "clip": true}, "encoding": {"x": {"field": "t", "type": "quantitative", "scale": {"domain": [0, 32], "nice": false, "zero": false}, "axis": null}, "y": {"field": "hh", "type": "quantitative", "scale": {"domain": [-20.2, 20.85], "nice": false, "zero": false}, "axis": null}, "color": {"value": "#ff0000"}}},
  {"mark": {"type": "line", "opacity": 0}, "encoding": {"x": {"field": "t", "type": "quantitative", "scale": {"domain": [0, 32], "nice": false, "zero": false}, "axis": {"orient": "top", "values": [0, 10, 20, 30], "labels": false, "title": null}}, "y": {"field": "lm", "type": "quantitative", "scale": {"domain": [-20.2, 20.85], "nice": false, "zero": false}, "axis": {"orient": "right", "values": [-20, -10, 0, 10, 20], "labels": false, "title": null}}}}
 ]},
{"title": {"text": "FCI", "offset": 3}, "width": 248, "height": 259,
 "transform": [{"filter": "datum.p == 'f'"}],
 "resolve": {"axis": {"x": "independent", "y": "independent"}},
 "layer": [
  {"mark": {"type": "rule", "color": "#000000", "strokeWidth": 1}, "encoding": {"y": {"datum": 0, "type": "quantitative", "scale": {"domain": [-137, 142], "nice": false, "zero": false}, "axis": null}}},
  {"mark": {"type": "line", "strokeWidth": 3, "clip": true}, "encoding": {"x": {"field": "t", "type": "quantitative", "scale": {"domain": [0, 32], "nice": false, "zero": false}, "axis": {"orient": "bottom", "values": [0, 10, 20, 30], "title": null}}, "y": {"field": "lm", "type": "quantitative", "scale": {"domain": [-137, 142], "nice": false, "zero": false}, "axis": {"orient": "left", "values": [-100, -50, 0, 50, 100], "title": null}}, "color": {"datum": "IRF low vulnerability", "type": "nominal", "scale": {"domain": ["IRF low vulnerability", "IRF high vulnerability"], "range": ["#0000ff", "#ff0000"]}}}},
  {"mark": {"type": "line", "strokeWidth": 3, "strokeDash": [3, 3], "clip": true}, "encoding": {"x": {"field": "t", "type": "quantitative", "scale": {"domain": [0, 32], "nice": false, "zero": false}, "axis": null}, "y": {"field": "ll", "type": "quantitative", "scale": {"domain": [-137, 142], "nice": false, "zero": false}, "axis": null}, "color": {"value": "#0000ff"}}},
  {"mark": {"type": "line", "strokeWidth": 3, "strokeDash": [3, 3], "clip": true}, "encoding": {"x": {"field": "t", "type": "quantitative", "scale": {"domain": [0, 32], "nice": false, "zero": false}, "axis": null}, "y": {"field": "lh", "type": "quantitative", "scale": {"domain": [-137, 142], "nice": false, "zero": false}, "axis": null}, "color": {"value": "#0000ff"}}},
  {"mark": {"type": "line", "strokeWidth": 3, "clip": true}, "encoding": {"x": {"field": "t", "type": "quantitative", "scale": {"domain": [0, 32], "nice": false, "zero": false}, "axis": null}, "y": {"field": "hm", "type": "quantitative", "scale": {"domain": [-137, 142], "nice": false, "zero": false}, "axis": null}, "color": {"datum": "IRF high vulnerability", "type": "nominal", "scale": {"domain": ["IRF low vulnerability", "IRF high vulnerability"], "range": ["#0000ff", "#ff0000"]}}}},
  {"mark": {"type": "line", "strokeWidth": 3, "strokeDash": [3, 3], "clip": true}, "encoding": {"x": {"field": "t", "type": "quantitative", "scale": {"domain": [0, 32], "nice": false, "zero": false}, "axis": null}, "y": {"field": "hl", "type": "quantitative", "scale": {"domain": [-137, 142], "nice": false, "zero": false}, "axis": null}, "color": {"value": "#ff0000"}}},
  {"mark": {"type": "line", "strokeWidth": 3, "strokeDash": [3, 3], "clip": true}, "encoding": {"x": {"field": "t", "type": "quantitative", "scale": {"domain": [0, 32], "nice": false, "zero": false}, "axis": null}, "y": {"field": "hh", "type": "quantitative", "scale": {"domain": [-137, 142], "nice": false, "zero": false}, "axis": null}, "color": {"value": "#ff0000"}}},
  {"mark": {"type": "line", "opacity": 0}, "encoding": {"x": {"field": "t", "type": "quantitative", "scale": {"domain": [0, 32], "nice": false, "zero": false}, "axis": {"orient": "top", "values": [0, 10, 20, 30], "labels": false, "title": null}}, "y": {"field": "lm", "type": "quantitative", "scale": {"domain": [-137, 142], "nice": false, "zero": false}, "axis": {"orient": "right", "values": [-100, -50, 0, 50, 100], "labels": false, "title": null}}}}
 ]},
{"title": {"text": "FFR", "offset": 3}, "width": 240, "height": 259,
 "transform": [{"filter": "datum.p == 'r'"}],
 "resolve": {"axis": {"x": "independent", "y": "independent"}},
 "layer": [
  {"mark": {"type": "rule", "color": "#000000", "strokeWidth": 1}, "encoding": {"y": {"datum": 0, "type": "quantitative", "scale": {"domain": [-8.9, 8.4], "nice": false, "zero": false}, "axis": null}}},
  {"mark": {"type": "line", "strokeWidth": 3, "clip": true}, "encoding": {"x": {"field": "t", "type": "quantitative", "scale": {"domain": [0, 30.97], "nice": false, "zero": false}, "axis": {"orient": "bottom", "values": [0, 10, 20, 30], "title": null}}, "y": {"field": "lm", "type": "quantitative", "scale": {"domain": [-8.9, 8.4], "nice": false, "zero": false}, "axis": {"orient": "left", "values": [-5, 0, 5], "title": null}}, "color": {"datum": "IRF low vulnerability", "type": "nominal", "scale": {"domain": ["IRF low vulnerability", "IRF high vulnerability"], "range": ["#0000ff", "#ff0000"]}}}},
  {"mark": {"type": "line", "strokeWidth": 3, "strokeDash": [3, 3], "clip": true}, "encoding": {"x": {"field": "t", "type": "quantitative", "scale": {"domain": [0, 30.97], "nice": false, "zero": false}, "axis": null}, "y": {"field": "ll", "type": "quantitative", "scale": {"domain": [-8.9, 8.4], "nice": false, "zero": false}, "axis": null}, "color": {"value": "#0000ff"}}},
  {"mark": {"type": "line", "strokeWidth": 3, "strokeDash": [3, 3], "clip": true}, "encoding": {"x": {"field": "t", "type": "quantitative", "scale": {"domain": [0, 30.97], "nice": false, "zero": false}, "axis": null}, "y": {"field": "lh", "type": "quantitative", "scale": {"domain": [-8.9, 8.4], "nice": false, "zero": false}, "axis": null}, "color": {"value": "#0000ff"}}},
  {"mark": {"type": "line", "strokeWidth": 3, "clip": true}, "encoding": {"x": {"field": "t", "type": "quantitative", "scale": {"domain": [0, 30.97], "nice": false, "zero": false}, "axis": null}, "y": {"field": "hm", "type": "quantitative", "scale": {"domain": [-8.9, 8.4], "nice": false, "zero": false}, "axis": null}, "color": {"datum": "IRF high vulnerability", "type": "nominal", "scale": {"domain": ["IRF low vulnerability", "IRF high vulnerability"], "range": ["#0000ff", "#ff0000"]}}}},
  {"mark": {"type": "line", "strokeWidth": 3, "strokeDash": [3, 3], "clip": true}, "encoding": {"x": {"field": "t", "type": "quantitative", "scale": {"domain": [0, 30.97], "nice": false, "zero": false}, "axis": null}, "y": {"field": "hl", "type": "quantitative", "scale": {"domain": [-8.9, 8.4], "nice": false, "zero": false}, "axis": null}, "color": {"value": "#ff0000"}}},
  {"mark": {"type": "line", "strokeWidth": 3, "strokeDash": [3, 3], "clip": true}, "encoding": {"x": {"field": "t", "type": "quantitative", "scale": {"domain": [0, 30.97], "nice": false, "zero": false}, "axis": null}, "y": {"field": "hh", "type": "quantitative", "scale": {"domain": [-8.9, 8.4], "nice": false, "zero": false}, "axis": null}, "color": {"value": "#ff0000"}}},
  {"mark": {"type": "line", "opacity": 0}, "encoding": {"x": {"field": "t", "type": "quantitative", "scale": {"domain": [0, 30.97], "nice": false, "zero": false}, "axis": {"orient": "top", "values": [0, 10, 20, 30], "labels": false, "title": null}}, "y": {"field": "lm", "type": "quantitative", "scale": {"domain": [-8.9, 8.4], "nice": false, "zero": false}, "axis": null}}}
 ]}
],
"config": {
 "view": {"stroke": null},
 "font": "Liberation Sans",
 "axis": {"domainColor": "#8c8c8c", "domainWidth": 1, "tickColor": "#8c8c8c", "tickSize": -4, "tickWidth": 1, "labelFont": "Liberation Sans", "labelFontSize": 18, "labelColor": "#262626", "grid": false, "labelPadding": 12, "labelFlush": false, "labelOverlap": false},
 "title": {"font": "Liberation Sans", "fontSize": 21, "fontWeight": "bold", "color": "#000000"}
}
}
